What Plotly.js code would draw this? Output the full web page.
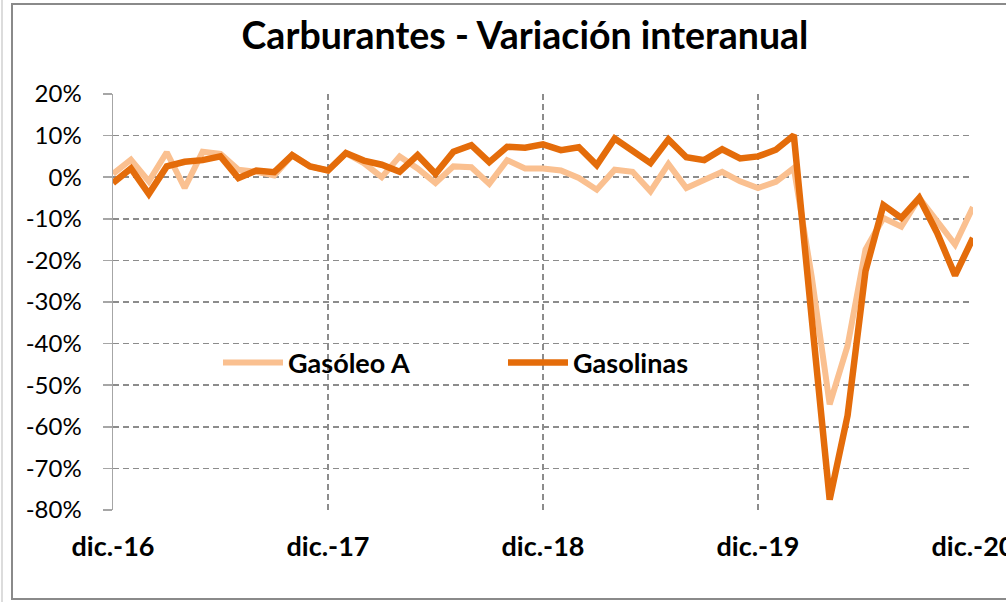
<!DOCTYPE html>
<html>
<head>
<meta charset="utf-8">
<script src="https://cdn.plot.ly/plotly-3.0.1.min.js"></script>
<style>
  html, body { margin: 0; padding: 0; background: #ffffff; }
  #chart { width: 1006px; height: 602px; }
</style>
</head>
<body>
<div id="chart"></div>
<script>
const months = [
  'dic.-16',
  'ene.-17','feb.-17','mar.-17','abr.-17','may.-17','jun.-17','jul.-17','ago.-17','sep.-17','oct.-17','nov.-17','dic.-17',
  'ene.-18','feb.-18','mar.-18','abr.-18','may.-18','jun.-18','jul.-18','ago.-18','sep.-18','oct.-18','nov.-18','dic.-18',
  'ene.-19','feb.-19','mar.-19','abr.-19','may.-19','jun.-19','jul.-19','ago.-19','sep.-19','oct.-19','nov.-19','dic.-19',
  'ene.-20','feb.-20','mar.-20','abr.-20','may.-20','jun.-20','jul.-20','ago.-20','sep.-20','oct.-20','nov.-20','dic.-20'
];

const gasoleoA = [
  0.8,
  4.2, -1.0, 6.0, -2.6, 6.1, 5.6, 1.8, 1.3, 0.4, 5.3, 2.6, 1.6,
  5.8, 3.4, 0.0, 5.0, 2.1, -1.4, 2.6, 2.4, -1.6, 4.1, 2.1, 2.1,
  1.6, -0.2, -3.0, 1.8, 1.3, -3.4, 3.2, -2.6, -0.6, 1.3, -1.0, -2.6,
  -1.1, 2.2, -24.0, -54.6, -40.5, -17.4, -9.8, -11.9, -5.0, -10.6, -16.2, -7.2
];

const gasolinas = [
  -1.4,
  2.1, -4.0, 2.6, 3.7, 4.1, 5.0, -0.2, 1.6, 1.2, 5.3, 2.6, 1.6,
  5.8, 4.0, 3.0, 1.3, 5.3, 0.8, 6.1, 7.7, 3.6, 7.3, 7.1, 7.9,
  6.5, 7.2, 2.9, 9.3, 6.4, 3.4, 9.1, 4.8, 4.1, 6.7, 4.5, 5.0,
  6.6, 10.1, -34.0, -77.5, -57.3, -22.6, -6.7, -9.8, -5.0, -13.4, -23.6, -14.6
];

const yearTicks = ['dic.-16','dic.-17','dic.-18','dic.-19','dic.-20'];
const halfYearTicks = ['dic.-16','jun.-17','dic.-17','jun.-18','dic.-18','jun.-19','dic.-19','jun.-20','dic.-20'];
const yTickVals = [20, 10, 0, -10, -20, -30, -40, -50, -60, -70, -80];
const yTickText = ['20%', '10%', '0%', '-10%', '-20%', '-30%', '-40%', '-50%', '-60%', '-70%', '-80%'];
const seriesNames = ['Gasóleo A', 'Gasolinas'];

const FONT = 'Lato, "Open Sans", sans-serif';

// plot area pixels: x 113..973, y 94..510
const L = 113, R = 973, T = 94, B = 510;
const px = v => (v - L) / (R - L);
const py = v => (B - v) / (B - T);

const traces = [
  {
    x: months, y: gasoleoA, name: seriesNames[0], type: 'scatter', mode: 'lines',
    line: { color: '#FAC090', width: 6 }, xaxis: 'x', yaxis: 'y'
  },
  {
    x: months, y: gasolinas, name: seriesNames[1], type: 'scatter', mode: 'lines',
    line: { color: '#E46C0A', width: 6.5 }, xaxis: 'x', yaxis: 'y'
  }
];

const layout = {
  width: 1006, height: 602,
  margin: { l: L, r: 1006 - R, t: T, b: 602 - B, pad: 0 },
  paper_bgcolor: '#ffffff', plot_bgcolor: '#ffffff',
  font: { family: FONT, color: '#000000' },
  title: {
    text: '<b>Carburantes - Variación interanual</b>',
    font: { family: FONT, size: 37.5, color: '#000000' },
    x: px(525), xanchor: 'center', xref: 'paper',
    y: 1 - 36 / 602, yref: 'container', yanchor: 'middle'
  },
  xaxis: {
    type: 'category', categoryorder: 'array', categoryarray: months,
    range: [0, months.length - 1],
    tickmode: 'array', tickvals: yearTicks, ticktext: yearTicks.map(t => '<b>' + t + '</b>'),
    showgrid: true, gridcolor: '#8c8c8c', gridwidth: 1.5, griddash: '6px,4px',
    showline: false, zeroline: false, ticks: '',
    tickfont: { family: FONT, size: 27, color: '#000000' },
    ticklabelstandoff: 18,
    fixedrange: true
  },
  xaxis2: {
    type: 'category', categoryorder: 'array', categoryarray: months,
    range: [0, months.length - 1],
    overlaying: 'x', anchor: 'free', position: py(176),
    tickmode: 'array', tickvals: halfYearTicks, showticklabels: false,
    ticks: 'outside', ticklen: 6, tickwidth: 1.5, tickcolor: '#333333',
    showline: true, linecolor: '#333333', linewidth: 1.5,
    showgrid: false, zeroline: false, fixedrange: true
  },
  yaxis: {
    range: [-80, 20],
    tickmode: 'array', tickvals: yTickVals, ticktext: yTickText,
    showgrid: true, gridcolor: '#8c8c8c', gridwidth: 1.5, griddash: '6px,4px',
    zeroline: false,
    showline: true, linecolor: '#a6a6a6', linewidth: 1.5,
    ticks: 'outside', ticklen: 9, tickwidth: 1.5, tickcolor: '#a6a6a6',
    tickfont: { family: FONT, size: 24, color: '#000000' },
    ticklabelstandoff: 16,
    fixedrange: true
  },
  showlegend: true,
  legend: {
    orientation: 'h',
    x: px(218), xanchor: 'left',
    y: py(363), yanchor: 'middle',
    bgcolor: 'rgba(0,0,0,0)', borderwidth: 0,
    font: { family: FONT, size: 27, color: '#000000', weight: 'bold' },
    entrywidth: 210, entrywidthmode: 'pixels',
    itemwidth: 60, traceorder: 'normal'
  },
  shapes: [
    // white box behind legend hiding gridlines
    { type: 'rect', xref: 'paper', yref: 'paper', layer: 'between',
      x0: px(114.5), x1: px(788), y0: py(383), y1: py(333),
      fillcolor: '#ffffff', line: { width: 0 } },
    // chart frame
    { type: 'rect', xref: 'paper', yref: 'paper', layer: 'above',
      x0: px(12), x1: px(1012), y0: py(599), y1: py(4),
      fillcolor: 'rgba(0,0,0,0)', line: { color: '#8a8a8a', width: 2 } },
    { type: 'line', xref: 'paper', yref: 'paper', layer: 'above',
      x0: px(2), x1: px(2), y0: py(602), y1: py(0),
      line: { color: '#d0d0d0', width: 1.5 } }
  ]
};

Plotly.newPlot('chart', traces, layout, { displayModeBar: false, staticPlot: true });
</script>
</body>
</html>
